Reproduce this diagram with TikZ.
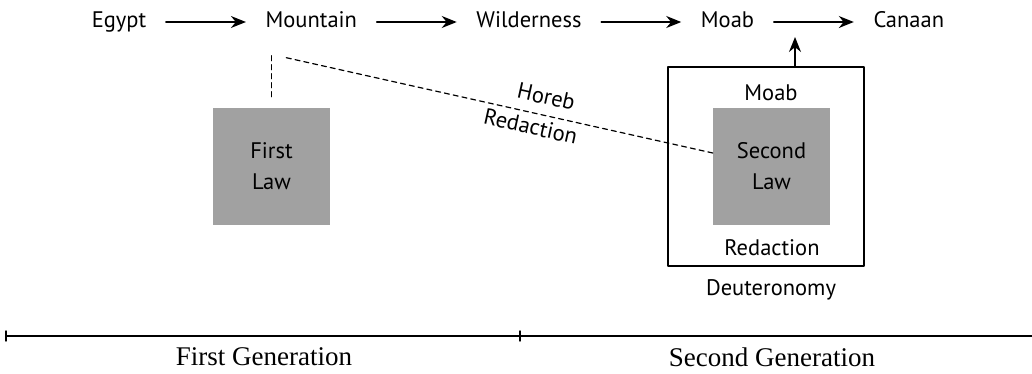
\documentclass[tikz,border=0pt]{standalone}
\usepackage{fontspec}
\setmainfont{Liberation Serif}
\setsansfont{PT Sans}
\usetikzlibrary{arrows.meta,calc,positioning}
\tikzset{
  every picture/.append style={line cap=round,line join=round},
  route place/.style={font=\sffamily\fontsize{22.5}{26}\selectfont,inner xsep=19.5pt,inner ysep=3pt,text height=15pt,text depth=4pt},
  route arrow/.style={line width=1.4pt,-{Stealth[length=15pt,width=12pt]}},
  law block/.style={fill=black!37,minimum width=117pt,minimum height=117pt,align=center,font=\sffamily\fontsize{22.5}{31}\selectfont},
  book frame/.style={draw,line width=1.4pt,minimum width=196pt,minimum height=199pt},
  book note/.style={font=\sffamily\fontsize{22.5}{26}\selectfont,inner sep=2pt},
  link dashed/.style={line width=1.2pt,dash pattern=on 5pt off 4pt},
  era line/.style={line width=1.4pt},
  era label/.style={font=\fontsize{27}{30}\selectfont}
}

\begin{document}
\begin{tikzpicture}[x=1pt,y=-1pt,node distance=80pt]
\useasboundingbox (0,0) rectangle (1032,373);
% route of the people
\node[route place] (egypt) at (119,22) {Egypt};
\node[route place,right=of egypt] (mountain) {Mountain};
\node[route place,right=of mountain] (wild) {Wilderness};
\node[route place,right=of wild] (moab) {Moab};
\node[route place,right=of moab] (canaan) {Canaan};
\draw[route arrow] (egypt) -- (mountain);
\draw[route arrow] (mountain) -- (wild);
\draw[route arrow] (wild) -- (moab);
\draw[route arrow] (moab) -- (canaan);
% the two laws
\node[law block] (first) at (271.5,166.5) {First\\Law};
\node[book frame] (frame) at (766,166.5) {};
\node[law block] (second) at (771.5,166) {Second\\Law};
\node[book note] (seat) at (771,93) {Moab};
\node[book note] (redact) at (772,248) {Redaction};
\node[book note] (book) at (771,290) {Deuteronomy};
\coordinate (gate) at (795,37);
\draw[route arrow] (gate |- frame.north) -- (gate);
\draw[link dashed,shorten <=21pt,shorten >=8pt] (first.north |- mountain.south) -- (first.north);
\draw[link dashed] ([xshift=-25pt,yshift=-23pt]mountain.south) -- ([yshift=13pt]second.west)
  node[book note,sloped,above=8pt,pos=0.6] (horeb) {Horeb}
  node[book note,sloped,below=3pt,pos=0.58] (redhor) {Redaction};
% generations
\coordinate (t0) at (6,336);
\coordinate (tm) at (520,336);
\coordinate (t1) at (1032,336);
\draw[era line] (t0) -- (t1);
\draw[era line] ($(t0)+(0,-5)$) -- ($(t0)+(0,5)$);
\draw[era line] ($(tm)+(0,-5)$) -- ($(tm)+(0,5)$);
\node[era label] (gen1) at (264,357) {First Generation};
\node[era label] (gen2) at (772,357) {Second Generation};
\end{tikzpicture}
\end{document}
